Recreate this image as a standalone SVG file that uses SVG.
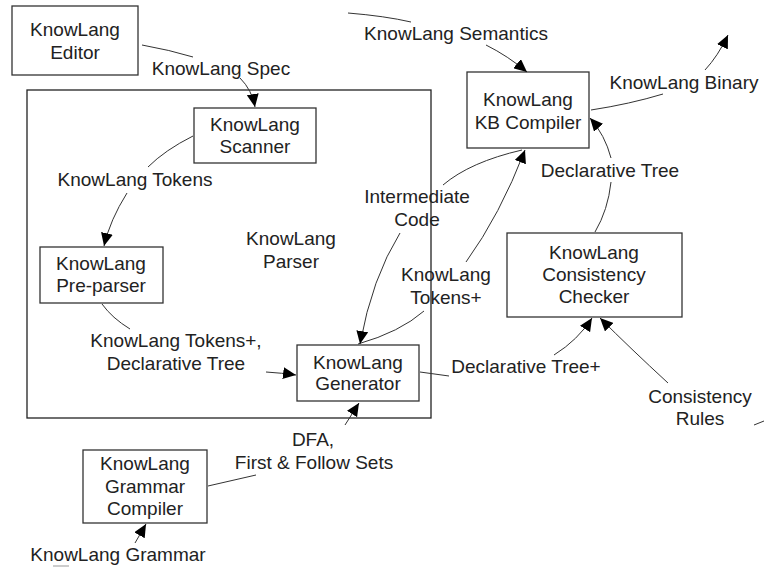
<svg xmlns="http://www.w3.org/2000/svg" width="764" height="567" viewBox="0 0 764 567">
<defs>
<marker id="ah" markerUnits="userSpaceOnUse" markerWidth="14" markerHeight="12" refX="13" refY="6" orient="auto">
<path d="M0,0 L13,6 L0,12 z" fill="#000"/>
</marker>
<style>
.box{fill:#fff;stroke:#333;stroke-width:1.3}
.frame{fill:none;stroke:#222;stroke-width:1.3}
text{font-family:"Liberation Sans",Arial,sans-serif;font-size:19px;fill:#222;text-anchor:middle}
.c{fill:none;stroke:#333;stroke-width:1}
.a{marker-end:url(#ah)}
</style>
</defs>
<rect width="764" height="567" fill="#fff"/>
<g id="parser">
<rect class="frame" x="27" y="90" width="404" height="328"/>
<text x="291" y="245">KnowLang</text>
<text x="291" y="268">Parser</text>
</g>
<g id="editor">
<rect class="box" x="12" y="6" width="126" height="69"/>
<text x="75" y="36">KnowLang</text>
<text x="75" y="59">Editor</text>
</g>
<g id="scanner">
<rect class="box" x="194" y="108" width="122" height="55"/>
<text x="255" y="131">KnowLang</text>
<text x="255" y="153">Scanner</text>
</g>
<g id="preparser">
<rect class="box" x="40" y="247" width="123" height="56"/>
<text x="101" y="270">KnowLang</text>
<text x="101" y="292">Pre-parser</text>
</g>
<g id="generator">
<rect class="box" x="297" y="345" width="122" height="56"/>
<text x="358" y="369">KnowLang</text>
<text x="358" y="390">Generator</text>
</g>
<g id="kbcompiler">
<rect class="box" x="467" y="72" width="122" height="76"/>
<text x="528" y="106">KnowLang</text>
<text x="528" y="129">KB Compiler</text>
</g>
<g id="checker">
<rect class="box" x="507" y="233" width="175" height="84"/>
<text x="594" y="259">KnowLang</text>
<text x="594" y="281">Consistency</text>
<text x="594" y="303">Checker</text>
</g>
<g id="grammarcompiler">
<rect class="box" x="83" y="450" width="124" height="73"/>
<text x="145" y="470">KnowLang</text>
<text x="145" y="493">Grammar</text>
<text x="145" y="515">Compiler</text>
</g>
<g id="connectors">
<path class="c a" d="M142,45 Q170,50 193,57 M240,78 Q252,90 255,107"/>
<path class="c a" d="M193,136 Q165,150 148,167 M127,193 Q110,220 104,246"/>
<path class="c a" d="M102,304 Q112,318 130,329 M266,372 Q282,373 296,375"/>
<path class="c a" d="M358,344 Q400,332 424,311 M466,262 Q500,215 525,150"/>
<path class="c a" d="M522,150 Q470,162 443,185 M400,233 Q372,278 360,344"/>
<path class="c a" d="M595,232 Q608,210 611,182 M611,158 Q605,135 590,118"/>
<path class="c a" d="M591,110 Q630,104 663,94 M705,70 Q718,56 728,35"/>
<path class="c a" d="M348,13 Q385,16 411,22 M486,45 Q508,56 527,72"/>
<path class="c a" d="M420,372 L449,376 M554,355 Q578,340 592,318"/>
<path class="c a" d="M668,383 Q630,348 600,318"/>
<path class="c" d="M754,425 L764,421"/>
<path class="c a" d="M135,543 L146,524"/>
<path class="c a" d="M208,486 L256,475 M345,425 L359,403"/>
<path d="M53,566 L69,566" stroke="#999" stroke-width="1"/>
</g>
<g id="labels">
<text x="221" y="75">KnowLang Spec</text>
<text x="135" y="186">KnowLang Tokens</text>
<text x="456" y="40">KnowLang Semantics</text>
<text x="684" y="89">KnowLang Binary</text>
<text x="610" y="177">Declarative Tree</text>
<text x="417" y="203">Intermediate</text>
<text x="417" y="226">Code</text>
<text x="446" y="281">KnowLang</text>
<text x="446" y="304">Tokens+</text>
<text x="176" y="347">KnowLang Tokens+,</text>
<text x="176" y="370">Declarative Tree</text>
<text x="526" y="373">Declarative Tree+</text>
<text x="700" y="403">Consistency</text>
<text x="700" y="425">Rules</text>
<text x="313" y="446">DFA,</text>
<text x="314" y="469">First &amp; Follow Sets</text>
<text x="118" y="561">KnowLang Grammar</text>
</g>
</svg>
